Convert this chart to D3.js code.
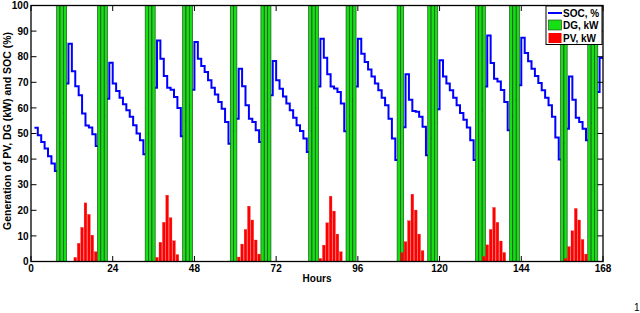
<!DOCTYPE html>
<html>
<head>
<meta charset="utf-8">
<script src="https://cdn.jsdelivr.net/npm/d3@7"></script>
<style>
  html, body { margin: 0; padding: 0; background: #fff; }
  svg { display: block; }
  text { font-family: "Liberation Sans", Arial, Helvetica, sans-serif; }
</style>
</head>
<body>
<svg id="chart" width="640" height="313"></svg>
<script>
// ---- data ----
// SOC (%) for hours 1..167 (stairs)
const socHours = d3.range(1, 168);
const soc = [
  52.2, 49.3, 46.7, 44.1, 41.1, 38.3, 35.4, 46, 58, 69.5,
  85.1, 74.3, 68.5, 64.9, 57.8, 53.1, 52.3, 49.7, 45.1, 51,
  57, 63.6, 77.6, 69.5, 66.6, 64.0, 61.4, 59.1, 56.5, 53.2,
  50.0, 47.4, 41.9, 50, 59, 67.9, 86.3, 79.2, 72.5, 67.9,
  67.1, 64.3, 60.0, 48.9, 55, 61, 67.1, 85.7, 79.2, 76.4,
  74.0, 70.8, 67.9, 65.2, 62.3, 59.7, 54.5, 46.0, 51, 55.8,
  75.3, 68.5, 61.0, 55.8, 54.5, 51.3, 46.7, 53, 59, 64.9,
  78.3, 70.8, 67.5, 64.5, 61.7, 59.1, 56.2, 53.2, 51.0, 48.0,
  42.8, 51, 60, 68.4, 87.0, 79.6, 73.1, 68.4, 67.6, 66.2,
  61.7, 50.9, 57, 63, 68.4, 87.0, 81.2, 77.9, 75.0, 72.3,
  69.5, 66.9, 64.0, 61.0, 55.8, 48.0, 39.6, 46, 52.4, 73.1,
  63.2, 58.8, 58.5, 56.5, 52.6, 41.5, 48, 54, 59.5, 78.6,
  72.3, 69.5, 66.9, 64.0, 61.0, 58.0, 55.4, 52.3, 47.4, 39.6,
  49, 59, 68.4, 88.3, 77.5, 71.4, 70.3, 67.0, 62.3, 51.3,
  57, 63, 68.8, 87.4, 81.4, 78.2, 75.3, 72.5, 69.7, 66.9,
  64.0, 61.0, 56.5, 48.4, 39.8, 46, 51.9, 72.3, 63.2, 56.2,
  54.5, 51.9, 47.4, 54, 60, 66.2, 79.5
];
// DG operating hours and output (kW, clipped at axis top)
const dgHours = [8, 9, 10, 20, 21, 22, 34, 35, 36, 45, 46, 47, 59, 60, 68, 69, 70,
  82, 83, 84, 93, 94, 95, 108, 109, 117, 118, 119, 131, 132, 133, 141, 142, 143,
  156, 157, 164, 165, 166];
const dgKW = dgHours.map(() => 100);
// PV generation (kW)
const pvHours = [13, 14, 15, 16, 17, 18, 19,
  37, 38, 39, 40, 41, 42, 43,
  61, 62, 63, 64, 65, 66, 67,
  85, 86, 87, 88, 89, 90, 91,
  109, 110, 111, 112, 113, 114, 115,
  133, 134, 135, 136, 137, 138, 139,
  157, 158, 159, 160, 161, 162, 163];
const pvKW = [1.6, 7.1, 13.3, 22.9, 18.4, 10.3, 3.8,
  1.6, 7.5, 15.3, 25.9, 17.1, 8.1, 2.7,
  1.75, 6.8, 12.5, 21.6, 16.2, 8.4, 2.9,
  1.2, 6.4, 15.1, 25.5, 19.7, 10.7, 3.8,
  3.5, 7.7, 15.9, 26.3, 20.1, 10.7, 4.2,
  2.0, 6.5, 12.5, 21.1, 15.3, 8.0, 3.5,
  1.2, 5.8, 12.0, 20.7, 16.2, 8.6, 2.9];
const xTicks = [0, 24, 48, 72, 96, 120, 144, 168];
const yTicks = [0, 10, 20, 30, 40, 50, 60, 70, 80, 90, 100];
const legendLabels = ["SOC, %", "DG, kW", "PV, kW"];

// ---- layout ----
const L = 31, R = 603, T = 5.5, B = 261.5;
const svg = d3.select("#chart");
const x = d3.scaleLinear().domain([0, 168]).range([L, R]);
const y = d3.scaleLinear().domain([0, 100]).range([B, T]);
const font = "bold 10px 'Liberation Sans', Arial, sans-serif";

svg.append("defs").append("clipPath").attr("id", "clip")
  .append("rect").attr("x", L).attr("y", T).attr("width", R - L).attr("height", B - T);

const plot = svg.append("g").attr("clip-path", "url(#clip)");

// SOC stairs
const socPts = socHours.map((h, i) => [h, soc[i]]);
socPts.push([168, soc[soc.length - 1]]);
plot.append("path")
  .attr("d", d3.line().x(d => x(d[0])).y(d => y(d[1])).curve(d3.curveStepAfter)(socPts))
  .attr("fill", "none").attr("stroke", "#0000ff").attr("stroke-width", 2);

// DG bars
const dgW = 0.95;
plot.selectAll("rect.dg").data(dgHours).enter().append("rect")
  .attr("class", "dg")
  .attr("x", (h) => x(h - dgW / 2))
  .attr("width", x(dgW) - x(0))
  .attr("y", (h, i) => y(dgKW[i]))
  .attr("height", (h, i) => y(0) - y(dgKW[i]))
  .attr("fill", "#14e014").attr("stroke", "#1a3a1a").attr("stroke-width", 0.6);

// PV bars
const pvW = 0.8;
plot.selectAll("rect.pv").data(pvHours).enter().append("rect")
  .attr("class", "pv")
  .attr("x", (h) => x(h - pvW / 2))
  .attr("width", x(pvW) - x(0))
  .attr("y", (h, i) => y(pvKW[i]))
  .attr("height", (h, i) => y(0) - y(pvKW[i]))
  .attr("fill", "#ff0000").attr("stroke", "#ee2020").attr("stroke-width", 0.3);

// axes (inward ticks on all sides)
const tl = 5.5;
const ax = svg.append("g").attr("stroke", "#000").attr("stroke-width", 1);
xTicks.forEach(t => {
  ax.append("line").attr("x1", x(t)).attr("x2", x(t)).attr("y1", B).attr("y2", B - tl);
  ax.append("line").attr("x1", x(t)).attr("x2", x(t)).attr("y1", T).attr("y2", T + tl);
});
yTicks.forEach(t => {
  ax.append("line").attr("x1", L).attr("x2", L + tl).attr("y1", y(t)).attr("y2", y(t));
  ax.append("line").attr("x1", R).attr("x2", R - tl).attr("y1", y(t)).attr("y2", y(t));
});
svg.append("rect").attr("x", L).attr("y", T).attr("width", R - L).attr("height", B - T)
  .attr("fill", "none").attr("stroke", "#000").attr("stroke-width", 1.3);

// tick labels
svg.append("g").selectAll("text").data(xTicks).enter().append("text")
  .attr("x", d => x(d)).attr("y", 272).attr("text-anchor", "middle")
  .style("font", font).text(d => d);
svg.append("g").selectAll("text").data(yTicks).enter().append("text")
  .attr("x", 28.5).attr("y", d => y(d) + 3.6).attr("text-anchor", "end")
  .style("font", font).text(d => d);

// axis titles
svg.append("text").attr("x", (L + R) / 2).attr("y", 282).attr("text-anchor", "middle")
  .style("font", font).text("Hours");
svg.append("text").attr("transform", "translate(10.5,131) rotate(-90)")
  .attr("text-anchor", "middle").style("font", "bold 10.5px 'Liberation Sans', Arial, sans-serif")
  .text("Generation of PV, DG (kW) and SOC (%)");

// legend
const lg = svg.append("g");
lg.append("rect").attr("x", 546).attr("y", 6).attr("width", 56).attr("height", 38.5)
  .attr("fill", "#fff").attr("stroke", "#000").attr("stroke-width", 1);
lg.append("line").attr("x1", 548).attr("x2", 562).attr("y1", 13).attr("y2", 13)
  .attr("stroke", "#0000ff").attr("stroke-width", 2);
lg.append("rect").attr("x", 548.5).attr("y", 20).attr("width", 13).attr("height", 10)
  .attr("fill", "#14e014").attr("stroke", "#1a3a1a").attr("stroke-width", 0.6);
lg.append("rect").attr("x", 548.5).attr("y", 33).attr("width", 13).attr("height", 10)
  .attr("fill", "#ff0000");
legendLabels.forEach((t, i) => {
  lg.append("text").attr("x", 563).attr("y", 16.5 + i * 12.8).style("font", font).text(t);
});

// stray label at the bottom-right edge of the original figure
svg.append("text").attr("x", 634).attr("y", 311).style("font", "10px 'Liberation Sans', Arial, sans-serif").text("1");
</script>
</body>
</html>
